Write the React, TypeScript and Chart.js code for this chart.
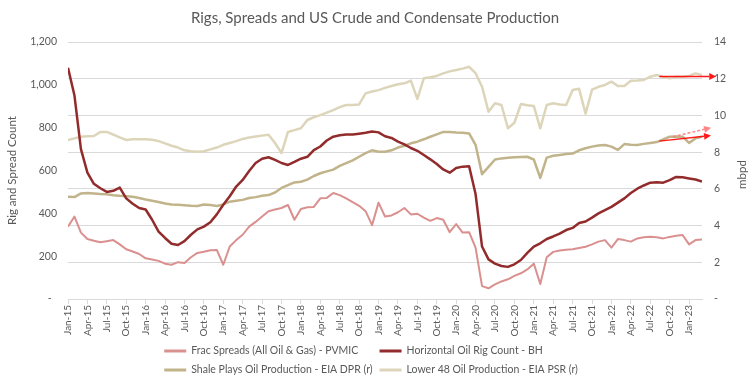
import React, { useEffect, useRef } from 'react';
import { Chart, registerables } from 'chart.js';

Chart.register(...registerables);

const FONT = "Lato, 'Open Sans', sans-serif";
const TEXT = '#595959';

// Monthly values, Jan-15 .. Mar-23 (99 months)
const fracSpreads = [
  338, 385, 310, 280, 272, 265, 270, 275, 255, 232,
  222, 210, 190, 184, 178, 165, 160, 172, 168, 195,
  215, 221, 228, 229, 160, 245, 275, 300, 338, 360,
  385, 410, 418, 425, 439, 370, 420, 428, 430, 470,
  472, 495, 485, 470, 452, 435, 410, 345, 450, 385,
  390, 405, 425, 395, 398, 380, 365, 378, 370, 312,
  350, 310, 312, 240, 60, 50, 68, 82, 92, 108,
  120, 138, 165, 70, 195, 220, 226, 230, 232, 238,
  244, 255, 268, 275, 240, 280, 275, 268, 283, 288,
  291, 288, 283, 290, 295, 299, 255, 275, 278,
];

const rigCount = [
  1080, 950, 700, 590, 538, 517, 500, 505, 520, 470,
  445, 425, 418, 370, 315, 285, 258, 252, 270, 300,
  325, 338, 358, 395, 440, 480, 525, 556, 598, 635,
  655, 662, 650, 635, 626, 640, 655, 664, 695, 712,
  740, 758, 765, 768, 768, 772, 776, 782, 778, 760,
  752, 735, 722, 705, 692, 672, 652, 630, 605, 590,
  612, 618, 620, 490, 245, 185, 165, 154, 150, 162,
  182, 215, 245, 260, 280, 292, 305, 322, 332, 355,
  362, 380, 400, 415, 430, 450, 470, 495, 515, 530,
  543, 545, 543, 555, 570, 568, 563, 558, 548,
];

const shaleProd = [
  5.57, 5.55, 5.75, 5.78, 5.75, 5.72, 5.7, 5.65, 5.62, 5.6,
  5.57, 5.5, 5.42, 5.35, 5.28, 5.2, 5.15, 5.13, 5.11, 5.08,
  5.07, 5.15, 5.12, 5.07, 5.15, 5.3, 5.35, 5.4, 5.5, 5.55,
  5.62, 5.66, 5.8, 6.05, 6.2, 6.35, 6.39, 6.5, 6.7, 6.85,
  6.95, 7.05, 7.25, 7.4, 7.55, 7.75, 7.95, 8.1, 8.02, 8.02,
  8.1, 8.25, 8.35, 8.48, 8.57, 8.7, 8.84, 8.97, 9.1, 9.1,
  9.07, 9.05, 9.02, 8.4, 6.8, 7.2, 7.6, 7.66, 7.7, 7.72,
  7.74, 7.75, 7.6, 6.6, 7.7, 7.8, 7.85, 7.9, 7.92, 8.1,
  8.21, 8.3, 8.36, 8.39, 8.3, 8.12, 8.44, 8.4, 8.39, 8.45,
  8.5, 8.55, 8.7, 8.84, 8.85, 8.84, 8.5, 8.75, 8.84,
];

const lower48Prod = [
  8.66, 8.75, 8.84, 8.86, 8.88, 9.1, 9.1, 8.95, 8.8, 8.66,
  8.7, 8.7, 8.7, 8.68, 8.6, 8.48, 8.35, 8.25, 8.1, 8.05,
  8.02, 8.05, 8.15, 8.25, 8.4, 8.5, 8.6, 8.72, 8.8, 8.85,
  8.9, 8.95, 8.5, 7.95, 9.1, 9.2, 9.3, 9.75, 9.9, 10.02,
  10.15, 10.29, 10.45, 10.57, 10.57, 10.6, 11.2, 11.3, 11.38, 11.5,
  11.6, 11.7, 11.75, 11.9, 10.9, 12.02, 12.08, 12.15, 12.29, 12.4,
  12.47, 12.55, 12.65, 12.3, 11.56, 10.2, 10.66, 10.57, 9.3, 9.6,
  10.62, 10.55, 10.52, 9.3, 10.57, 10.66, 10.6, 10.57, 11.38, 11.45,
  10.1, 11.4, 11.56, 11.66, 11.84, 11.6, 11.6, 11.89, 11.9, 11.93,
  12.11, 12.2, 12.1, 12.02, 12.11, 12.1, 12.15, 12.29, 12.2,
];

// Quarterly tick labels (every 3rd month starting Jan-15)
const tickLabels = [
  'Jan-15', 'Apr-15', 'Jul-15', 'Oct-15', 'Jan-16', 'Apr-16', 'Jul-16', 'Oct-16',
  'Jan-17', 'Apr-17', 'Jul-17', 'Oct-17', 'Jan-18', 'Apr-18', 'Jul-18', 'Oct-18',
  'Jan-19', 'Apr-19', 'Jul-19', 'Oct-19', 'Jan-20', 'Apr-20', 'Jul-20', 'Oct-20',
  'Jan-21', 'Apr-21', 'Jul-21', 'Oct-21', 'Jan-22', 'Apr-22', 'Jul-22', 'Oct-22',
  'Jan-23',
];
const TICK_STEP = 3;

const leftTicks = [0, 200, 400, 600, 800, 1000, 1200];
const rightTicks = [0, 2, 4, 6, 8, 10, 12, 14];

const seriesLabels = [
  'Frac Spreads (All Oil & Gas) - PVMIC',
  'Horizontal Oil Rig Count - BH',
  'Shale Plays Oil Production - EIA DPR (r)',
  'Lower 48 Oil Production - EIA PSR (r)',
];

// Annotation arrows in data units (month index, mbpd on right axis)
const arrows = [
  { x1: 91.4, y1: 12.12, x2: 100.2, y2: 12.12, color: 'rgba(255,0,0,0.9)', dash: [] as number[] },
  { x1: 91.4, y1: 8.6, x2: 99.4, y2: 8.9, color: 'rgba(255,0,0,0.9)', dash: [] as number[] },
  { x1: 93.5, y1: 8.84, x2: 99.4, y2: 9.33, color: 'rgba(255,120,120,0.9)', dash: [3, 2] },
];

function drawArrow(ctx: CanvasRenderingContext2D, x1: number, y1: number, x2: number, y2: number, color: string, dash: number[]) {
  const ang = Math.atan2(y2 - y1, x2 - x1);
  const head = 7;
  const hw = 3.5;
  const c = Math.cos(ang);
  const s = Math.sin(ang);
  const bx = x2 - head * c;
  const by = y2 - head * s;
  ctx.save();
  ctx.strokeStyle = color;
  ctx.lineWidth = 1.5;
  ctx.setLineDash(dash);
  ctx.beginPath();
  ctx.moveTo(x1, y1);
  ctx.lineTo(bx, by);
  ctx.stroke();
  ctx.setLineDash([]);
  ctx.fillStyle = color;
  ctx.beginPath();
  ctx.moveTo(x2, y2);
  ctx.lineTo(bx - hw * s, by + hw * c);
  ctx.lineTo(bx + hw * s, by - hw * c);
  ctx.closePath();
  ctx.fill();
  ctx.restore();
}

const decorPlugin = {
  id: 'decor',
  afterDatasetsDraw(chart: any) {
    const ctx = chart.ctx as CanvasRenderingContext2D;
    const xs = chart.scales.x;
    const ys = chart.scales.y1;
    arrows.forEach((a) => {
      drawArrow(
        ctx,
        xs.getPixelForValue(a.x1), ys.getPixelForValue(a.y1),
        xs.getPixelForValue(a.x2), ys.getPixelForValue(a.y2),
        a.color, a.dash,
      );
    });
  },
  afterDraw(chart: any) {
    const ctx = chart.ctx as CanvasRenderingContext2D;
    const area = chart.chartArea;
    const midY = (area.top + area.bottom) / 2;
    ctx.save();
    ctx.fillStyle = TEXT;
    // Title
    ctx.font = `15px ${FONT}`;
    ctx.textAlign = 'center';
    ctx.textBaseline = 'middle';
    ctx.fillText('Rigs, Spreads and US Crude and Condensate Production', 375, 18);
    // Axis titles
    ctx.font = `11.5px ${FONT}`;
    ctx.save();
    ctx.translate(12, midY);
    ctx.rotate(-Math.PI / 2);
    ctx.fillText('Rig and Spread Count', 0, 0);
    ctx.restore();
    ctx.save();
    ctx.translate(742, midY + 4);
    ctx.rotate(-Math.PI / 2);
    ctx.fillText('mbpd', 0, 0);
    ctx.restore();
    // Legend (two columns)
    const ds = chart.data.datasets;
    ctx.font = `10.5px ${FONT}`;
    const w = ds.map((d: any) => ctx.measureText(d.label).width);
    const sample = 22;
    const gap = 5;
    const colGap = 7;
    const c1 = Math.max(w[0], w[2]);
    const c2 = Math.max(w[1], w[3]);
    const total = sample + gap + c1 + colGap + sample + gap + c2;
    const x0 = 371 - total / 2;
    const colX = [x0, x0 + sample + gap + c1 + colGap];
    const rowY = [351, 370];
    ctx.textAlign = 'left';
    ds.forEach((d: any, k: number) => {
      const x = colX[k % 2];
      const y = rowY[Math.floor(k / 2)];
      ctx.strokeStyle = d.borderColor;
      ctx.lineWidth = 3;
      ctx.beginPath();
      ctx.moveTo(x, y);
      ctx.lineTo(x + sample, y);
      ctx.stroke();
      ctx.fillStyle = TEXT;
      ctx.fillText(d.label, x + sample + gap, y);
    });
    ctx.restore();
  },
};

export default function App() {
  const ref = useRef<HTMLCanvasElement>(null);

  useEffect(() => {
    if (!ref.current) return;
    const toPts = (arr: number[]) => arr.map((v, i) => ({ x: i, y: v }));
    const common = { pointRadius: 0, tension: 0, fill: false, borderJoinStyle: 'round' as const };
    const chart = new Chart(ref.current, {
      type: 'line',
      data: {
        datasets: [
          { ...common, label: seriesLabels[0], data: toPts(fracSpreads), borderColor: '#d9908f', borderWidth: 2, yAxisID: 'y' },
          { ...common, label: seriesLabels[1], data: toPts(rigCount), borderColor: '#922b2b', borderWidth: 2.5, yAxisID: 'y' },
          { ...common, label: seriesLabels[2], data: toPts(shaleProd), borderColor: '#c1b48b', borderWidth: 2.5, yAxisID: 'y1' },
          { ...common, label: seriesLabels[3], data: toPts(lower48Prod), borderColor: '#ddd5ba', borderWidth: 2.5, yAxisID: 'y1' },
        ],
      },
      options: {
        animation: false,
        responsive: false,
        layout: { padding: { top: 42, left: 0, right: 0, bottom: 0 } },
        plugins: {
          legend: { display: false },
          title: { display: false },
          tooltip: { enabled: false },
        },
        scales: {
          x: {
            type: 'linear',
            min: 0,
            max: fracSpreads.length - 1,
            afterBuildTicks: (s: any) => {
              s.ticks = tickLabels.map((_, k) => ({ value: k * TICK_STEP }));
            },
            afterFit: (s: any) => { s.height = 86; },
            grid: { drawOnChartArea: false, drawTicks: true, tickLength: 5, color: '#d9d9d9' },
            border: { display: true, color: '#d9d9d9' },
            ticks: {
              autoSkip: false,
              maxRotation: 90,
              minRotation: 90,
              padding: 1,
              color: TEXT,
              font: { family: FONT, size: 10 },
              callback: (v: any) => tickLabels[Math.round(Number(v) / TICK_STEP)] ?? '',
            },
          },
          y: {
            position: 'left',
            min: 0,
            max: 1200,
            afterBuildTicks: (s: any) => { s.ticks = leftTicks.map((v) => ({ value: v })); },
            afterFit: (s: any) => { s.width = 68; },
            grid: { display: false, drawTicks: false },
            border: { display: false },
            ticks: {
              padding: 11,
              color: TEXT,
              font: { family: FONT, size: 10.5 },
              callback: (v: any) => (Number(v) === 0 ? '-  ' : Number(v).toLocaleString('en-US')),
            },
          },
          y1: {
            position: 'right',
            min: 0,
            max: 14,
            afterBuildTicks: (s: any) => { s.ticks = rightTicks.map((v) => ({ value: v })); },
            afterFit: (s: any) => { s.width = 48; },
            grid: { color: '#d9d9d9', drawTicks: false },
            border: { display: false },
            ticks: {
              padding: 12,
              color: TEXT,
              font: { family: FONT, size: 10.5 },
              callback: (v: any) => (Number(v) === 0 ? '-' : String(v)),
            },
          },
        },
      },
      plugins: [decorPlugin],
    });
    return () => chart.destroy();
  }, []);

  return (
    <div style={{ position: 'fixed', left: 0, top: 0, width: 750, height: 385, background: '#fff' }}>
      <canvas ref={ref} width={750} height={385} style={{ width: 750, height: 385, display: 'block' }} />
    </div>
  );
}
